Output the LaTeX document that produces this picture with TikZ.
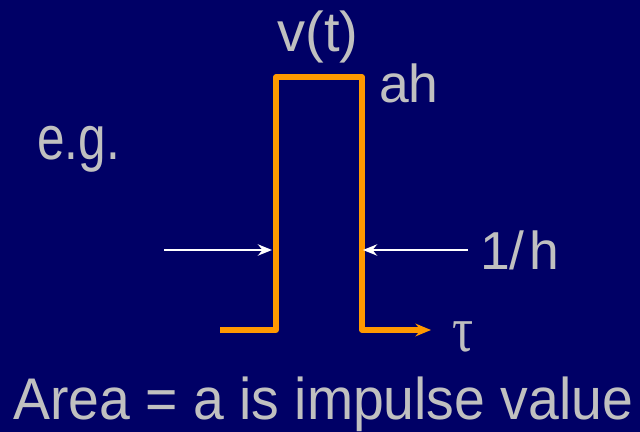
\documentclass[tikz,border=0pt]{standalone}
\usepackage{fontspec}
\setmainfont{Liberation Sans}
\newfontfamily\greekfont{Liberation Serif}
\usetikzlibrary{arrows.meta}
\definecolor{bgnavy}{RGB}{0,0,102}
\definecolor{pulseorange}{RGB}{255,153,0}
\definecolor{txtgray}{RGB}{192,192,192}

\begin{document}
\begin{tikzpicture}[
    x=0.025cm,y=-0.025cm,
    lbl/.style={text=txtgray,inner sep=0pt,font=\fontsize{38}{40}\selectfont},
    pulse/.style={-{Stealth[length=11pt,width=9pt]},draw=pulseorange,line width=3.6pt,line join=round},
    pointer/.style={-{Stealth[length=10pt,width=8pt]},draw=white,line width=2.1pt}
  ]
    \fill[bgnavy] (0,0) rectangle (640,432);
    \useasboundingbox (0,0) rectangle (640,432);
    % pulse corners
    \coordinate (b0) at (220,330);
    \coordinate (b1) at (276,330);
    \coordinate (t1) at (276,77);
    \coordinate (t2) at (362,77);
    \coordinate (b2) at (362,330);
    \coordinate (b3) at (431,330);
    \draw[pulse] (b0)--(b1)--(t1)--(t2)--(b2)--(b3);
    % width arrows
    \coordinate (la) at (164,250);
    \coordinate (lb) at (272,250);
    \coordinate (ra) at (468,250);
    \coordinate (rb) at (363,250);
    \draw[pointer] (la)--(lb);
    \draw[pointer] (ra)--(rb);
    % labels
    \node[lbl,anchor=base] (vt) at (318,52) {\scalebox{1.05}{v(t)}};
    \node[lbl,anchor=base west] (ah) at (379,103) {ah};
    \node[lbl,anchor=base west,font=\fontsize{44}{46}\selectfont] (eg) at (37,160) {\scalebox{0.8}[1]{e.g.}};
    \node[lbl,anchor=base west] (inv) at (480,270) {1/\kern3pt h};
    \node[lbl,anchor=base west,font=\fontsize{44}{46}\selectfont] (tau) at (452,352) {\scalebox{0.85}[1.05]{\greekfont τ}};
    \node[lbl,anchor=base west,font=\fontsize{41}{43}\selectfont] (area) at (13,420) {\scalebox{0.96}[1.02]{Area = a is impulse value}};
  \end{tikzpicture}
\end{document}
